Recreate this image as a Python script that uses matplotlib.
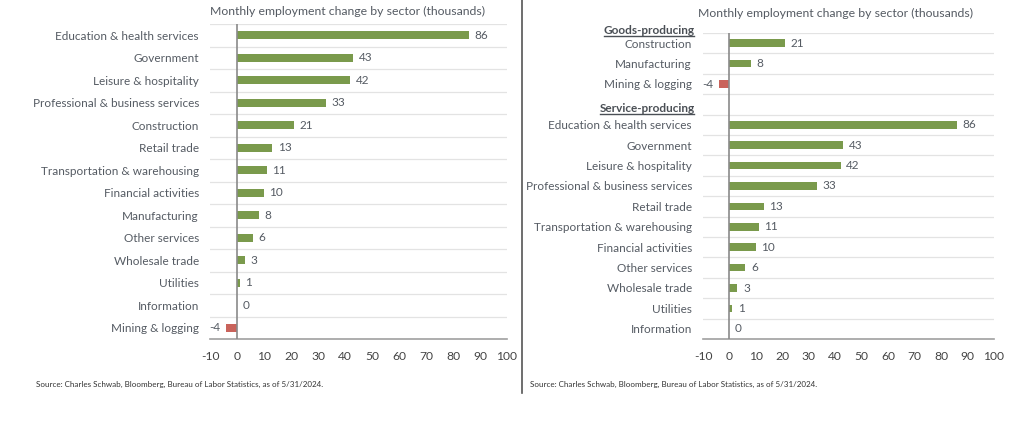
import matplotlib
matplotlib.use('Agg')
import matplotlib.pyplot as plt
from matplotlib.lines import Line2D

plt.rcParams['font.family'] = ['Lato', 'DejaVu Sans']

# left panel: all sectors ranked
ranked_sectors = [
    'Education & health services', 'Government', 'Leisure & hospitality',
    'Professional & business services', 'Construction', 'Retail trade',
    'Transportation & warehousing', 'Financial activities', 'Manufacturing',
    'Other services', 'Wholesale trade', 'Utilities', 'Information',
    'Mining & logging',
]
ranked_values = [86, 43, 42, 33, 21, 13, 11, 10, 8, 6, 3, 1, 0, -4]

# right panel: grouped by goods / services
goods_sectors = ['Construction', 'Manufacturing', 'Mining & logging']
goods_values = [21, 8, -4]
service_sectors = [
    'Education & health services', 'Government', 'Leisure & hospitality',
    'Professional & business services', 'Retail trade',
    'Transportation & warehousing', 'Financial activities', 'Other services',
    'Wholesale trade', 'Utilities', 'Information',
]
service_values = [86, 43, 42, 33, 13, 11, 10, 6, 3, 1, 0]

x_ticks = [-10, 0, 10, 20, 30, 40, 50, 60, 70, 80, 90, 100]
TITLE = 'Monthly employment change by sector (thousands)'
SOURCE = 'Source: Charles Schwab, Bloomberg, Bureau of Labor Statistics, as of 5/31/2024.'

GREEN = '#7a9a4c'
RED = '#c9635b'
TEXT = '#555b63'
GRID = '#e3e3e3'
W, H = 1024, 422


def px(x, y):
    """Pixel (from top-left) to figure fraction."""
    return x / W, 1 - y / H


def draw_bars(ax, labels, values, bar_height):
    rows = [i for i, v in enumerate(values) if v is not None]
    vals = [values[i] for i in rows]
    colors = [GREEN if v >= 0 else RED for v in vals]
    ax.barh(rows, vals, height=bar_height, color=colors, zorder=3)
    n = len(values)
    ax.set_ylim(n - 0.5, -0.5)
    ax.set_xlim(-10, 100)
    for b in range(n):
        ax.axhline(b - 0.5, color=GRID, linewidth=0.9, zorder=1)
    ax.axvline(0, color='#8a8a8a', linewidth=1.2, zorder=4)
    ax.set_yticks(range(n))
    ax.set_yticklabels(labels, fontsize=8.5, color=TEXT)
    ax.set_xticks(x_ticks)
    ax.set_xticklabels([str(t) for t in x_ticks], fontsize=8.7, color='#444')
    ax.tick_params(axis='both', length=0)
    ax.tick_params(axis='y', pad=8)
    ax.tick_params(axis='x', pad=9)
    for side in ('top', 'right', 'left'):
        ax.spines[side].set_visible(False)
    ax.spines['bottom'].set_color('#a0a0a0')
    ax.spines['bottom'].set_linewidth(1.2)
    for r, v in zip(rows, vals):
        if v >= 0:
            ax.annotate(str(v), (v, r), xytext=(4, 0), textcoords='offset points',
                        ha='left', va='center', fontsize=8.5, color=TEXT)
        else:
            ax.annotate(str(v), (v, r), xytext=(-4, 0), textcoords='offset points',
                        ha='right', va='center', fontsize=8.5, color=TEXT)


fig = plt.figure(figsize=(W / 100, H / 100), dpi=100)

# left chart
l0, b0 = px(210, 339)
ax1 = fig.add_axes([l0, b0, 297 / W, 315 / H])
draw_bars(ax1, ranked_sectors, ranked_values, 0.37)

# right chart
right_labels = goods_sectors + [''] + service_sectors
right_values = goods_values + [None] + service_values
l1, b1 = px(703, 339)
ax2 = fig.add_axes([l1, b1, 291 / W, 306 / H])
draw_bars(ax2, right_labels, right_values, 0.37)

# group headers (bold, underlined)
headers = []
for text, ypos in (('Goods-producing', -0.62), ('Service-producing', 3.22)):
    t = ax2.text(-0.028, ypos, text, transform=ax2.get_yaxis_transform(),
                 ha='right', va='center', fontsize=8.5, fontweight='bold',
                 color='#4a4f55')
    headers.append(t)
fig.canvas.draw()
renderer = fig.canvas.get_renderer()
for t in headers:
    bb = t.get_window_extent(renderer)
    y = bb.y0 + 0.5
    fig.add_artist(Line2D([bb.x0 / W, (bb.x1 - 1) / W], [y / H, y / H],
                          color='#4a4f55', linewidth=1.0))

# titles
fig.text(*px(348, 11), TITLE, ha='center', va='center', fontsize=8.8, color=TEXT)
fig.text(*px(836, 13), TITLE, ha='center', va='center', fontsize=8.8, color=TEXT)

# sources
fig.text(*px(36, 384), SOURCE, ha='left', va='center', fontsize=5.8, color='#333')
fig.text(*px(530, 384), SOURCE, ha='left', va='center', fontsize=5.8, color='#333')

# separator between panels
fig.add_artist(Line2D([522 / W, 522 / W], [1 - 393 / H, 1.0],
                      color='#555555', linewidth=1.2))

fig.savefig('out.png', dpi=100)
